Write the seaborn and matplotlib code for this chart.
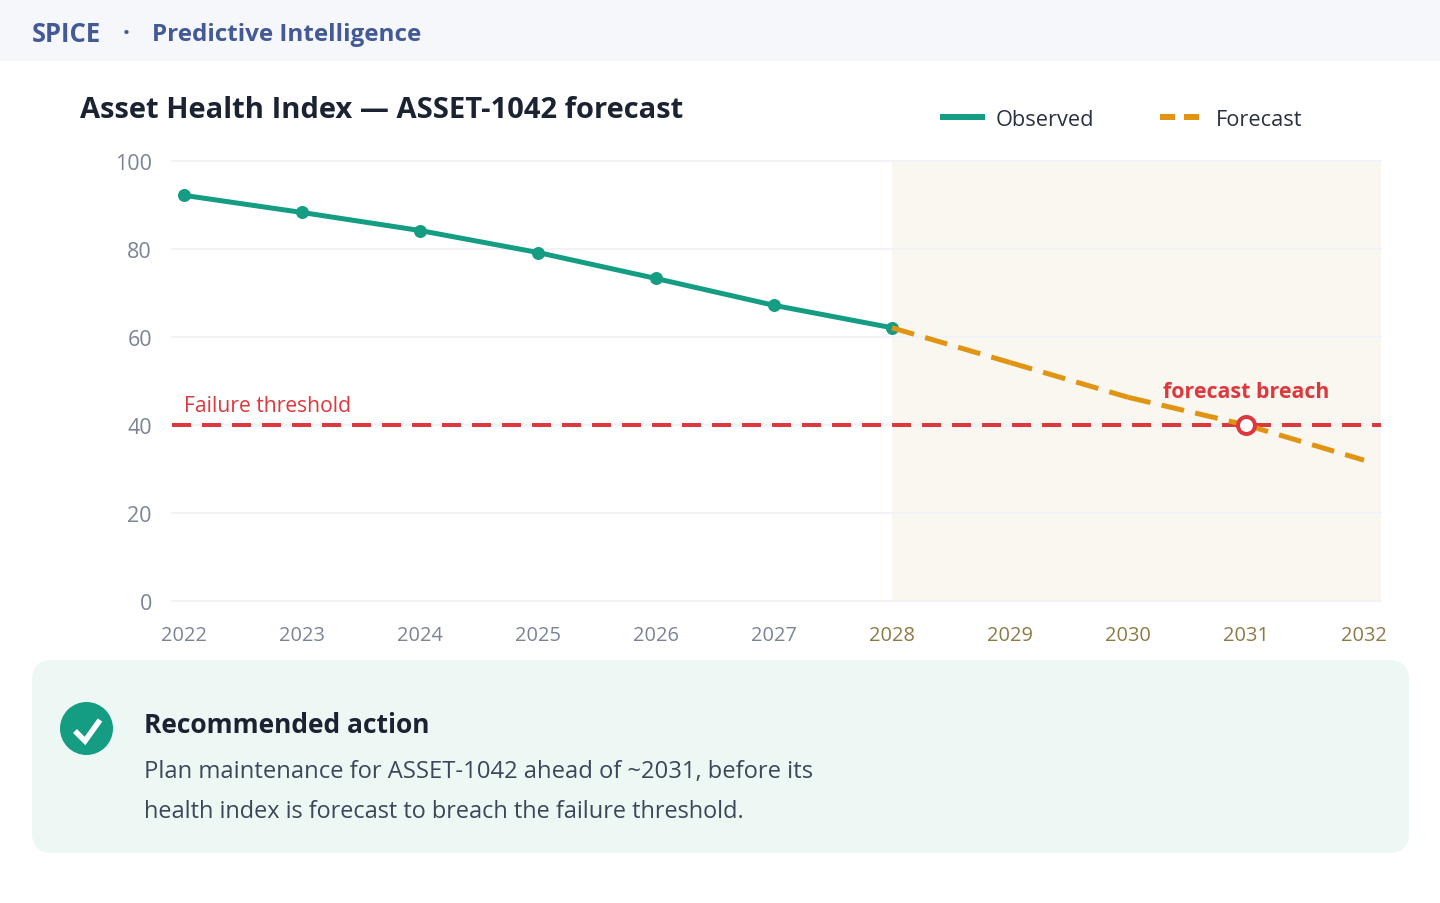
import matplotlib
matplotlib.use("Agg")
import matplotlib.pyplot as plt
from matplotlib.patches import Circle, FancyBboxPatch, Rectangle
import seaborn as sns

observed_years = [2022, 2023, 2024, 2025, 2026, 2027, 2028]
observed_values = [92.2, 88.3, 84.2, 79.2, 73.3, 67.2, 62.1]
forecast_years = [2028, 2029, 2030, 2031, 2032]
forecast_values = [62.1, 54.2, 46.3, 40, 32]
threshold = 40
breach_year = 2031
y_ticks = [0, 20, 40, 60, 80, 100]
x_ticks = [2022, 2023, 2024, 2025, 2026, 2027, 2028, 2029, 2030, 2031, 2032]

GREEN = "#149d82"
ORANGE = "#e09412"
RED = "#dc383d"
DARK = "#1b2333"

sns.set_theme(style="white")
plt.rcParams["font.family"] = ["Open Sans", "DejaVu Sans"]

PX = 0.72  # points per pixel at dpi 100
fig = plt.figure(figsize=(14.4, 9.04), dpi=100, facecolor="white")

# full-figure layer in pixel coordinates for the page furniture
page = fig.add_axes([0, 0, 1, 1], zorder=0)
page.set_xlim(0, 1440)
page.set_ylim(903, -1)
page.axis("off")

page.add_patch(Rectangle((0, 0), 1440, 61, color="#f5f7fb", lw=0))
page.text(32, 31, "SPICE", fontsize=25.6 * PX, fontweight="bold", color="#435a97", va="center_baseline")
page.text(126, 31, "·", fontsize=25 * PX, fontweight="bold", color="#435a97", va="center_baseline", ha="center")
page.text(152, 31, "Predictive Intelligence", fontsize=24.3 * PX, fontweight="bold", color="#435a97", va="center_baseline")
page.text(80, 105.5, "Asset Health Index — ASSET-1042 forecast", fontsize=29.1 * PX, fontweight="bold", color=DARK, va="center_baseline")

# legend
page.plot([940, 985], [117, 117], color=GREEN, lw=6 * PX, solid_capstyle="butt")
page.plot([1160, 1199], [117, 117], color=ORANGE, lw=6 * PX, linestyle=(0, (15 / 6, 9 / 6)), dash_capstyle="butt")
page.text(996, 117, "Observed", fontsize=21.8 * PX, color="#283142", va="center_baseline")
page.text(1216, 117, "Forecast", fontsize=21.8 * PX, color="#283142", va="center_baseline")

# recommendation card
page.add_patch(FancyBboxPatch((52, 680), 1337, 153, boxstyle="round,pad=20,rounding_size=20",
                              fc="#edf7f4", ec="none", lw=0))
page.add_patch(Circle((86.5, 728.5), 26.5, fc=GREEN, ec="none"))
page.plot([75, 85, 100], [731, 741, 720], color="white", lw=5.5 * PX, solid_capstyle="butt", solid_joinstyle="miter")
page.text(144, 721.5, "Recommended action", fontsize=26.4 * PX, fontweight="bold", color=DARK, va="center_baseline")
page.text(144, 768, "Plan maintenance for ASSET-1042 ahead of ~2031, before its", fontsize=23.7 * PX, color="#3d4759", va="center_baseline")
page.text(144, 808, "health index is forecast to breach the failure threshold.", fontsize=23.5 * PX, color="#3d4759", va="center_baseline")

# chart
ax = fig.add_axes([172 / 1440, 1 - 602 / 904, 1209 / 1440, 440 / 904], zorder=1)
ax.patch.set_alpha(0)
ax.set_xlim(2022 - 12 / 118, 2032 + 17 / 118)
ax.set_ylim(0, 100)

ax.axvspan(2028, ax.get_xlim()[1], color="#faf7f0", lw=0, zorder=0)
ax.set_axisbelow(True)
ax.yaxis.grid(True, color="#f1f2f6", lw=2 * PX)
ax.xaxis.grid(False)
for gl in ax.get_ygridlines():
    gl.set_clip_on(False)

ax.axhline(threshold, color=RED, lw=4 * PX, linestyle=(0, (19 / 4, 11 / 4)), dash_capstyle="butt", zorder=2)

sns.lineplot(x=observed_years, y=observed_values, ax=ax, color=GREEN, linewidth=5 * PX,
             marker="o", markersize=13 * PX, markeredgewidth=0, zorder=3, errorbar=None)
# dash pattern restarts at every forecast point, so draw the segments one by one
for i in range(len(forecast_years) - 1):
    sns.lineplot(x=forecast_years[i:i + 2], y=forecast_values[i:i + 2], ax=ax, color=ORANGE, linewidth=5 * PX,
                 linestyle=(0, (23 / 5, 11.5 / 5)), dash_capstyle="butt", zorder=4, errorbar=None)
sns.scatterplot(x=[breach_year], y=[threshold], ax=ax, s=(17 * PX) ** 2, color="white",
                edgecolor=RED, linewidth=4 * PX, zorder=5, clip_on=False)

ax.text(2031, 48.2, "forecast breach", fontsize=21.4 * PX, fontweight="bold", color=RED, ha="center", va="center_baseline")
ax.text(2022, 44.9, "Failure threshold", fontsize=21.2 * PX, color=RED, ha="left", va="center_baseline")

ax.set_xticks(x_ticks)
ax.set_yticks(y_ticks)
ax.set_xlabel("")
ax.set_ylabel("")
ax.tick_params(axis="y", length=0, pad=20 * PX, labelsize=21.5 * PX, labelcolor="#7a8496")
ax.tick_params(axis="x", length=0, pad=24 * PX, labelsize=20 * PX)
for year, label in zip(x_ticks, ax.get_xticklabels()):
    label.set_color("#8f7a45" if year >= 2028 else "#7a8496")
sns.despine(ax=ax, left=True, bottom=True)

fig.savefig("out.png", dpi=100)
